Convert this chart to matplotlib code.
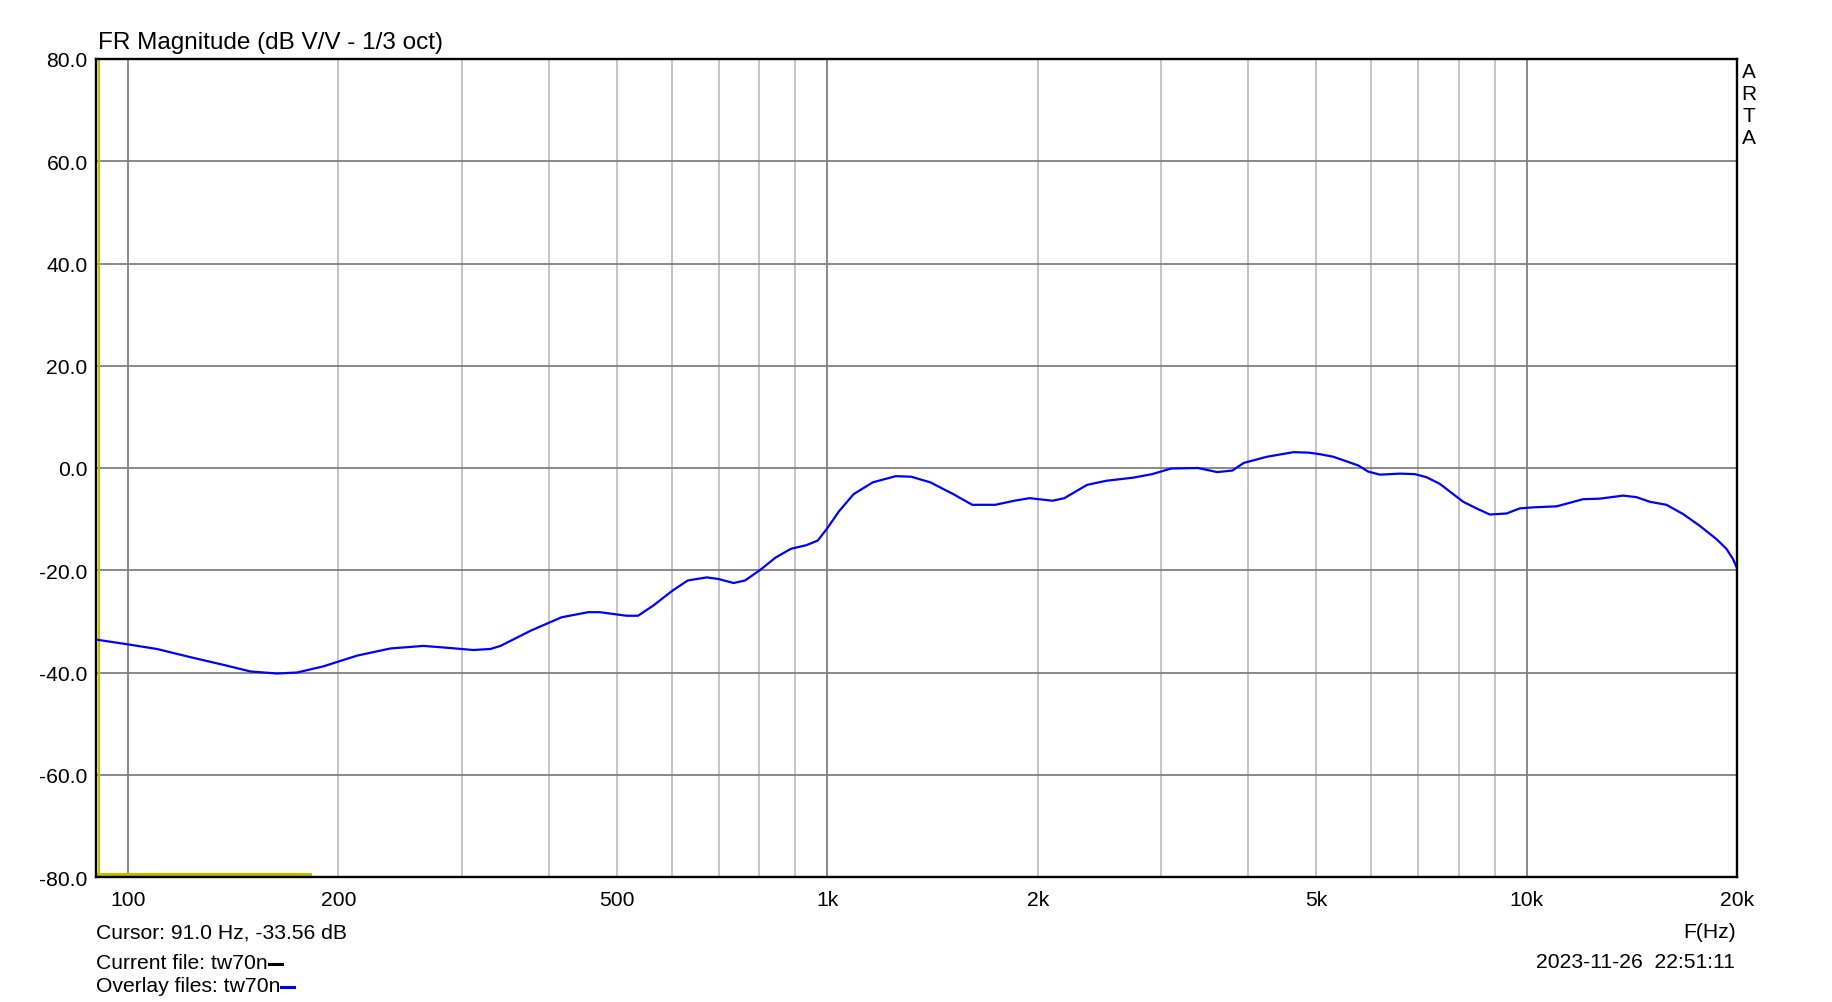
import matplotlib
matplotlib.use("Agg")
import matplotlib.pyplot as plt
from matplotlib.ticker import FixedLocator, NullFormatter, NullLocator
from matplotlib.lines import Line2D

# ---------------- data ----------------
freq_hz = [90.4, 100, 110, 122.8, 136.9, 149.7, 163.4, 174.5, 190.3, 212.6,
           237.3, 264.5, 282.5, 311.8, 329.8, 341, 376.9, 416.9, 455.1, 472.7,
           516.4, 536.3, 564, 600.6, 631.6, 672.6, 698.5, 734.6, 763, 802.5,
           843.9, 887.5, 933.3, 969.2, 1000, 1039, 1091, 1162, 1253, 1318,
           1404, 1514, 1612, 1739, 1852, 1947, 2100, 2183, 2353, 2506,
           2736, 2915, 3104, 3390, 3611, 3796, 3943, 4254, 4645, 4885,
           5065, 5293, 5529, 5745, 5937, 6171, 6591, 6925, 7194, 7517,
           7854, 8117, 8482, 8862, 9363, 9781, 10220, 11043, 12051, 12725,
           13744, 14362, 15005, 15853, 16744, 17689, 18689, 19315, 19738, 20000]
mag_db = [-33.6, -34.5, -35.4, -37.0, -38.5, -39.8, -40.2, -40.0, -38.8, -36.7,
          -35.3, -34.8, -35.1, -35.6, -35.4, -34.8, -31.8, -29.2, -28.2, -28.2,
          -28.9, -28.9, -26.9, -24.0, -22.0, -21.4, -21.7, -22.5, -22.0, -19.9,
          -17.5, -15.8, -15.1, -14.2, -11.8, -8.5, -5.1, -2.8, -1.6, -1.7,
          -2.8, -5.1, -7.2, -7.2, -6.4, -5.9, -6.4, -5.9, -3.3, -2.5,
          -1.9, -1.2, -0.1, 0.0, -0.8, -0.5, 1.0, 2.2, 3.1, 3.0,
          2.7, 2.2, 1.3, 0.5, -0.7, -1.3, -1.1, -1.2, -1.8, -3.1,
          -5.1, -6.6, -7.9, -9.1, -8.9, -7.9, -7.7, -7.5, -6.1, -6.0,
          -5.4, -5.7, -6.6, -7.2, -9.0, -11.3, -13.9, -15.8, -17.8, -19.6]

x_ticks = [100, 200, 500, 1000, 2000, 5000, 10000, 20000]
x_tick_labels = ["100", "200", "500", "1k", "2k", "5k", "10k", "20k"]
y_ticks = [80, 60, 40, 20, 0, -20, -40, -60, -80]
y_tick_labels = ["80.0", "60.0", "40.0", "20.0", "0.0", "-20.0", "-40.0", "-60.0", "-80.0"]
major_grid = [100, 1000, 10000]
minor_grid = [200, 300, 400, 500, 600, 700, 800, 900,
              2000, 3000, 4000, 5000, 6000, 7000, 8000, 9000]

cursor_freq = 91.0
cursor_db = -33.56
marker_freqs = [90, 182]
marker_level = -79.4

x_range = (90, 20000)
y_range = (-80, 80)

title = "FR Magnitude (dB V/V - 1/3 oct)"
cursor_text = "Cursor: 91.0 Hz, -33.56 dB"
current_text = "Current file: tw70n"
overlay_text = "Overlay files: tw70n"
date_text = "2023-11-26  22:51:11"

# ---------------- figure ----------------
plt.rcParams['font.family'] = ['Liberation Sans', 'DejaVu Sans']
W, H = 1833, 1003
fig = plt.figure(figsize=(W / 100, H / 100), dpi=100, facecolor="white")
L, R, T, B = 96, 1737, 60, 878
ax = fig.add_axes([L / W, 1 - B / H, (R - L) / W, (B - T) / H])
ax.set_xscale("log")
ax.set_xlim(*x_range)
ax.set_ylim(*y_range)

for f in minor_grid:
    ax.axvline(f, color="#c0c0c0", lw=1.3, zorder=1)
for f in major_grid:
    ax.axvline(f, color="#808080", lw=1.3, zorder=1.5)
for y in y_ticks:
    ax.axhline(y, color="#808080", lw=1.3, zorder=1.5)

ax.plot(freq_hz, mag_db, color="#0000ff", lw=1.6, zorder=3, solid_joinstyle="round")

# cursor lines
ax.axvline(cursor_freq, color="#c0c000", lw=1.6, zorder=2)
ax.plot(marker_freqs, [marker_level, marker_level], color="#c0c000", lw=2.2, zorder=2)

fs = 15.2
ax.xaxis.set_major_locator(FixedLocator(x_ticks))
ax.set_xticklabels(x_tick_labels)
ax.xaxis.set_minor_locator(NullLocator())
ax.xaxis.set_minor_formatter(NullFormatter())
ax.set_yticks(y_ticks)
ax.set_yticklabels(y_tick_labels)
ax.tick_params(axis="both", length=0, labelsize=fs, colors="black")
ax.tick_params(axis="x", pad=9)
ax.tick_params(axis="y", pad=6)
for s in ax.spines.values():
    s.set_linewidth(1.7)
    s.set_color("black")
    s.set_zorder(5)

fig.text(98 / W, 1 - 49 / H, title, fontsize=17.5, ha="left", va="baseline")
fig.text(96 / W, 1 - 933 / H, cursor_text, fontsize=fs, ha="left", va="center")
t_cur = fig.text(96 / W, 1 - 964 / H, current_text, fontsize=fs, ha="left", va="center")
t_ov = fig.text(96 / W, 1 - 987 / H, overlay_text, fontsize=fs, ha="left", va="center")
fig.text(1736 / W, 1 - 933 / H, "F(Hz)", fontsize=fs, ha="right", va="center")
fig.text(1735 / W, 1 - 963 / H, date_text, fontsize=fs, ha="right", va="center")

for i, ch in enumerate("ARTA"):
    fig.text(1749 / W, 1 - (72 + 22 * i) / H, ch, fontsize=15, ha="center", va="center")

fig.canvas.draw()
rend = fig.canvas.get_renderer()
for t, col in ((t_cur, "black"), (t_ov, "#0000ff")):
    bb = t.get_window_extent(renderer=rend)
    x0 = bb.x1 + 1
    yc = (bb.y0 + bb.y1) / 2 - 1
    fig.add_artist(Line2D([x0 / W, (x0 + 13) / W], [yc / H, yc / H],
                          color=col, lw=2.2, transform=fig.transFigure))

fig.savefig("out.png", dpi=100, facecolor="white")
